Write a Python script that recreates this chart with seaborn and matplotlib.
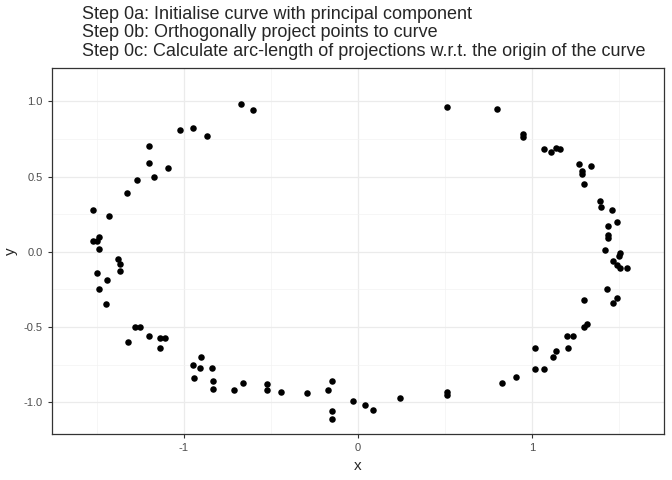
import matplotlib
matplotlib.use("Agg")
import matplotlib.pyplot as plt
import seaborn as sns
import pandas as pd

x_vals = [-0.67, -0.60, -1.02, -0.95, -0.87, -1.20, -1.20, -1.09, -1.17, -1.27,
          -1.33, -1.52, -1.43, -1.49, -1.52, -1.50, -1.49, -1.38, -1.37, -1.37,
          -1.50, -1.44, -1.49, -1.45, -1.28, -1.25, -1.20, -1.14, -1.11, -1.32,
          -1.14, -0.90, -0.95, -0.91, -0.84, -0.94, -0.83, -0.83, -0.71, -0.66,
          -0.52, -0.52, -0.44, -0.29, -0.15, -0.17, -0.15, -0.15, -0.03, 0.04,
          0.09, 0.24, 0.51, 0.80, 0.95, 0.95, 1.07, 1.11, 1.14, 1.16,
          1.27, 1.29, 1.29, 1.34, 1.30, 1.39, 1.40, 1.46, 1.49, 1.44,
          1.44, 1.44, 1.42, 1.51, 1.50, 1.47, 1.49, 1.51, 1.55, 1.43,
          1.49, 1.47, 1.30, 1.32, 1.30, 1.20, 1.24, 1.21, 1.02, 1.14,
          1.12, 1.02, 1.07, 0.91, 0.83, 0.51, 0.51]
y_vals = [0.98, 0.94, 0.81, 0.82, 0.77, 0.70, 0.59, 0.56, 0.50, 0.48,
          0.39, 0.28, 0.24, 0.10, 0.07, 0.07, 0.02, -0.05, -0.08, -0.13,
          -0.14, -0.19, -0.25, -0.35, -0.50, -0.50, -0.56, -0.57, -0.57, -0.60,
          -0.64, -0.70, -0.75, -0.77, -0.77, -0.84, -0.86, -0.91, -0.92, -0.87,
          -0.88, -0.92, -0.93, -0.94, -0.86, -0.92, -1.06, -1.11, -0.99, -1.02,
          -1.05, -0.97, 0.96, 0.95, 0.78, 0.76, 0.68, 0.66, 0.69, 0.68,
          0.58, 0.54, 0.52, 0.57, 0.45, 0.34, 0.30, 0.28, 0.20, 0.17,
          0.11, 0.09, 0.01, -0.01, -0.03, -0.06, -0.09, -0.11, -0.11, -0.25,
          -0.31, -0.34, -0.32, -0.48, -0.50, -0.56, -0.56, -0.64, -0.64, -0.66,
          -0.70, -0.78, -0.78, -0.83, -0.87, -0.93, -0.95]

df = pd.DataFrame({"x": x_vals, "y": y_vals})

sns.set_style("white")
plt.rcParams["font.family"] = ["Liberation Sans", "DejaVu Sans"]
plt.rcParams["axes.unicode_minus"] = False

fig = plt.figure(figsize=(6.72, 4.8), dpi=100)
ax = fig.add_axes([0.077, 0.096, 0.911, 0.762])
sns.scatterplot(data=df, x="x", y="y", color="black", s=22, linewidth=0, ax=ax, zorder=3)

ax.set_xlim(-1.76, 1.76)
ax.set_ylim(-1.21, 1.22)
ax.set_xticks([-1, 0, 1])
ax.set_yticks([-1.0, -0.5, 0.0, 0.5, 1.0])
ax.set_yticklabels(["-1.0", "-0.5", "0.0", "0.5", "1.0"])
ax.set_xticks([-1.5, -0.5, 0.5, 1.5], minor=True)
ax.set_yticks([-0.75, -0.25, 0.25, 0.75], minor=True)
ax.grid(True, which="major", color="#ebebeb", linewidth=0.9)
ax.grid(True, which="minor", color="#f3f3f3", linewidth=0.5)
ax.set_axisbelow(True)
for sp in ax.spines.values():
    sp.set_color("#333333")
    sp.set_linewidth(0.9)
ax.tick_params(which="major", length=3, color="#333333", labelsize=8, labelcolor="#4d4d4d", direction="out")
ax.tick_params(which="minor", length=0)
ax.tick_params(axis="both", which="major", bottom=True, left=True)
ax.set_xlabel("x", fontsize=11)
ax.set_ylabel("y", fontsize=11)

fig.text(0.122, 0.988,
         "Step 0a: Initialise curve with principal component\n"
         "Step 0b: Orthogonally project points to curve\n"
         "Step 0c: Calculate arc-length of projections w.r.t. the origin of the curve",
         fontsize=13, va="top", ha="left", linespacing=1.12)

fig.savefig("out.png", dpi=100)
